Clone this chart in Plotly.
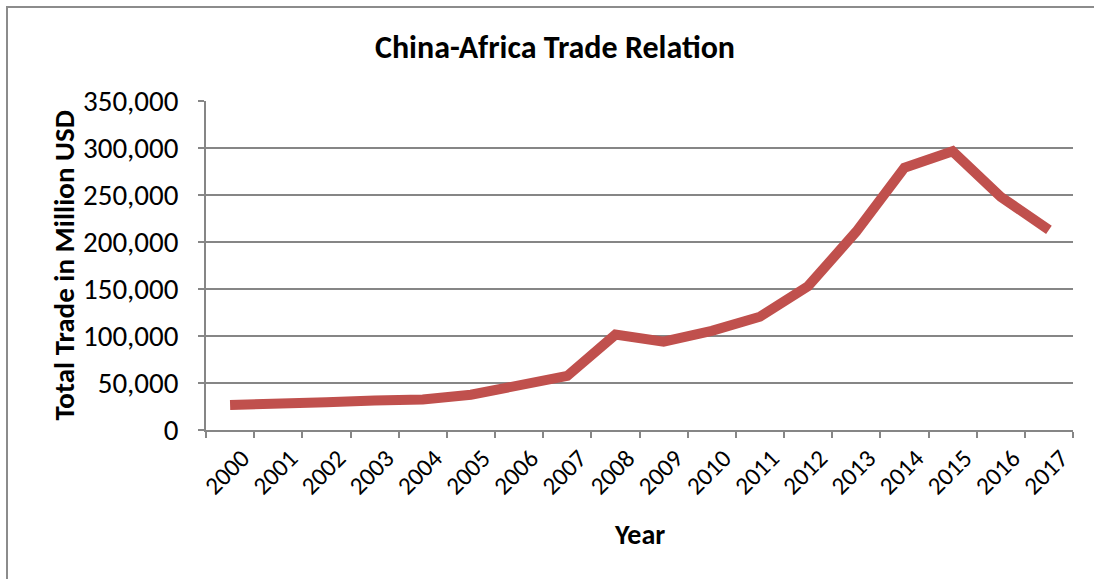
import plotly.graph_objects as go

years = [str(y) for y in range(2000, 2018)]
trade = [26600, 29400, 29600, 31500, 32500, 37500, 47500, 57500, 101500, 94000,
         105500, 120500, 153000, 211000, 279000, 296500, 248000, 213000]

FONT = "Carlito, 'Liberation Sans Narrow', 'DejaVu Sans Condensed', sans-serif"
GRID = "#868686"

W, H = 1094, 579
L, R, T, B = 206, 21, 101, 149
PW, PH = W - L - R, H - T - B

fig = go.Figure()
fig.add_trace(go.Scatter(
    x=years, y=trade, mode="lines",
    line=dict(color="#C0504D", width=10),
    hoverinfo="x+y",
))

fig.update_layout(
    width=W, height=H,
    margin=dict(l=L, r=R, t=T, b=B),
    paper_bgcolor="white", plot_bgcolor="white",
    showlegend=False,
    font=dict(family=FONT, size=28, color="black"),
    title=dict(text="<b>China-Africa Trade Relation</b>",
               font=dict(family=FONT, size=32, color="black"),
               xref="container", yref="container",
               x=555 / W, y=1 - 47 / H, xanchor="center", yanchor="middle"),
    xaxis=dict(
        type="category", tickson="boundaries", ticks="outside", ticklen=6,
        tickcolor=GRID, tickwidth=1.5,
        showline=True, linecolor=GRID, linewidth=1.5,
        showgrid=False, tickangle=-45,
        tickfont=dict(family=FONT, size=25),
        ticklabelshift=12, ticklabelstandoff=2,
        range=[-0.5, 17.5],
    ),
    yaxis=dict(
        range=[0, 350000], dtick=50000, tickformat=",",
        ticks="outside", ticklen=6, tickcolor=GRID, tickwidth=1.5,
        showline=True, linecolor=GRID, linewidth=1.5,
        showgrid=True, gridcolor=GRID, gridwidth=1.5,
        zeroline=False,
        tickfont=dict(family=FONT, size=29),
        ticklabelstandoff=14,
    ),
    annotations=[
        dict(text="<b>Total Trade in Million USD</b>", textangle=-90,
             xref="paper", yref="paper", x=(63 - L) / PW, y=0.5,
             xanchor="center", yanchor="middle", showarrow=False,
             font=dict(family=FONT, size=29, color="black")),
        dict(text="<b>Year</b>",
             xref="paper", yref="paper", x=0.5, y=-(534 - (H - B)) / PH,
             xanchor="center", yanchor="middle", showarrow=False,
             font=dict(family=FONT, size=28, color="black")),
    ],
    shapes=[dict(type="rect", xref="paper", yref="paper",
                 x0=(7 - L) / PW, x1=(W + 20 - L) / PW,
                 y0=-(H + 20 - (H - B)) / PH, y1=((H - B) - 7) / PH,
                 line=dict(color="#8c8c8c", width=2), fillcolor="rgba(0,0,0,0)",
                 layer="below")],
)

fig.write_html("out.html")
